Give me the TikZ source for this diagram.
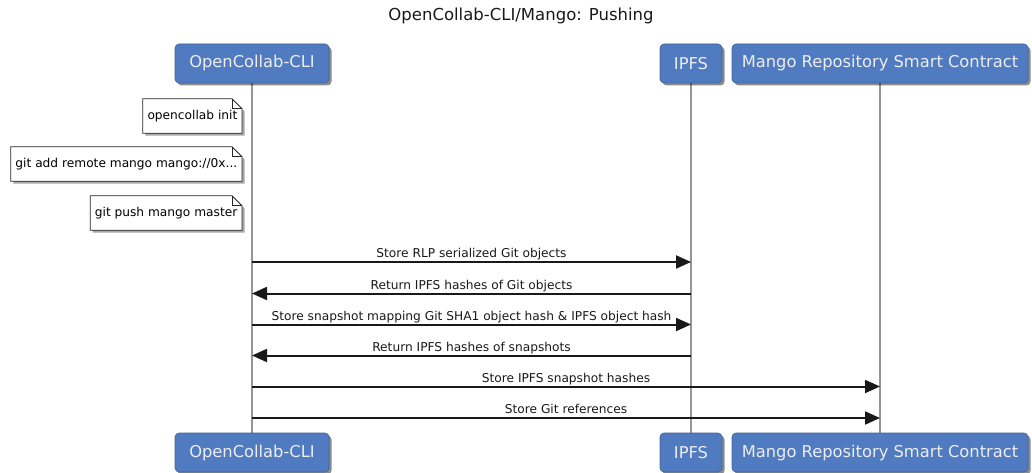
\documentclass[tikz,border=0pt]{standalone}
\usepackage{fontspec}
\setmainfont{DejaVu Sans}
\usetikzlibrary{arrows.meta,shadows,backgrounds}
\definecolor{headblue}{RGB}{80,123,192}
\definecolor{lifegray}{RGB}{150,150,150}
\begin{document}
\begin{tikzpicture}[x=1pt,y=-1pt,
  head/.style={draw=headblue!80!black, line width=0.6pt, fill=headblue, rounded corners=4pt,
    text=white!93!black, minimum height=39pt, inner sep=0pt,
    font=\fontsize{16.3}{18}\selectfont,
    drop shadow={shadow xshift=2.5pt, shadow yshift=-2.5pt, opacity=0.45, fill=black}},
  life/.style={draw=lifegray, line width=2pt},
  msg/.style={draw=black!90, line width=2pt, -{Triangle[length=15pt,width=13pt]}},
  msglabel/.style={font=\fontsize{12.2}{14}\selectfont, text=black!90, anchor=base, inner sep=0pt, yshift=4.5pt},
  notetext/.style={font=\fontsize{12.2}{14}\selectfont, anchor=east, minimum height=34pt,
    inner xsep=4.5pt, inner ysep=0pt},
  noteline/.style={draw=black!85, line width=0.8pt, fill=white,
    drop shadow={shadow xshift=2.5pt, shadow yshift=-2.5pt, opacity=0.35, fill=black}},
  foldline/.style={draw=black!85, line width=0.8pt}
]
\useasboundingbox (0,0) rectangle (1032,473);

% title
\node[font=\fontsize{16.5}{18}\selectfont, anchor=base, inner sep=0pt, text=black!90] (title) at (521,20.5) {OpenCollab-CLI/Mango: Pushing};

% participants top
\node[head, minimum width=154pt] (cli) at (252,63.5) {OpenCollab-CLI};
\node[head, minimum width=62pt] (ipfs) at (691,63.5) {IPFS};
\node[head, minimum width=296pt] (mango) at (880,63.5) {Mango Repository Smart Contract};

% participants bottom
\node[head, minimum width=154pt] (clib) at (252,452.5) {OpenCollab-CLI};
\node[head, minimum width=62pt] (ipfsb) at (691,452.5) {IPFS};
\node[head, minimum width=296pt] (mangob) at (880,452.5) {Mango Repository Smart Contract};

% lifelines
\begin{scope}[on background layer]
\draw[life] (cli.south) -- (clib.north);
\draw[life] (ipfs.south) -- (ipfsb.north);
\draw[life] (mango.south) -- (mangob.north);
\end{scope}

% notes
\node[notetext] (n1) at (242,116) {opencollab init};
\node[notetext] (n2) at (242,164) {git add remote mango mango://0x...};
\node[notetext] (n3) at (242,213) {git push mango master};
\begin{scope}[on background layer]
\foreach \n in {n1,n2,n3}{
  \path[noteline] (\n.north west) -- ([xshift=-10pt]\n.north east) -- ([yshift=-10pt]\n.north east)
     -- (\n.south east) -- (\n.south west) -- cycle;
  \path[foldline] ([xshift=-10pt]\n.north east) -- ([xshift=-10pt,yshift=-10pt]\n.north east)
     -- ([yshift=-10pt]\n.north east);
}
\end{scope}

% message rows
\coordinate (y1) at (0,262);
\coordinate (y2) at (0,293.5);
\coordinate (y3) at (0,324.5);
\coordinate (y4) at (0,355.5);
\coordinate (y5) at (0,386.5);
\coordinate (y6) at (0,418);

\draw[msg] (cli |- y1) -- node[msglabel] (l1) {Store RLP serialized Git objects} (ipfs |- y1);
\draw[msg] (ipfs |- y2) -- node[msglabel] (l2) {Return IPFS hashes of Git objects} (cli |- y2);
\draw[msg] (cli |- y3) -- node[msglabel] (l3) {Store snapshot mapping Git SHA1 object hash \& IPFS object hash} (ipfs |- y3);
\draw[msg] (ipfs |- y4) -- node[msglabel] (l4) {Return IPFS hashes of snapshots} (cli |- y4);
\draw[msg] (cli |- y5) -- node[msglabel] (l5) {Store IPFS snapshot hashes} (mango |- y5);
\draw[msg] (cli |- y6) -- node[msglabel] (l6) {Store Git references} (mango |- y6);
\end{tikzpicture}
\end{document}
